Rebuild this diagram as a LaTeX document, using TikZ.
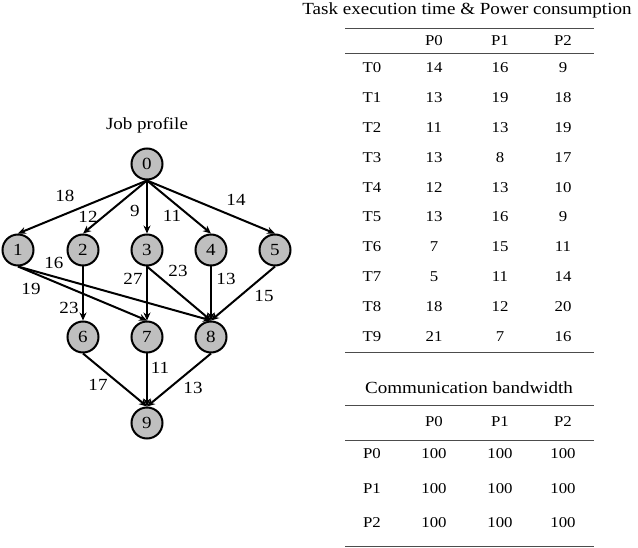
\documentclass[tikz,border=0pt]{standalone}
\usepackage{fontspec}
\setmainfont{Liberation Serif}[FakeStretch=1.12]
\usetikzlibrary{arrows.meta}
\begin{document}
\begin{tikzpicture}[x=1pt,y=-1pt,
  job/.style={circle,draw,line width=2pt,fill=black!25,minimum size=31pt,inner sep=0pt,font=\fontsize{17}{19}\selectfont},
  edge/.style={line width=2pt,-{Stealth[length=8pt,width=7pt]}},
  lbl/.style={font=\fontsize{17}{19}\selectfont},
  cell/.style={font=\fontsize{15}{17}\selectfont},
  rule/.style={line width=0.5pt,draw=black!70}]
\useasboundingbox (0,0) rectangle (638,548);
\node[lbl] (jt) at (147,125) {Job profile};
\node[job] (n0) at (147,164) {0};
\node[job] (n1) at (18,250) {1};
\node[job] (n2) at (83,250) {2};
\node[job] (n3) at (147,250) {3};
\node[job] (n4) at (211,250) {4};
\node[job] (n5) at (275,250) {5};
\node[job] (n6) at (83,337) {6};
\node[job] (n7) at (147,337) {7};
\node[job] (n8) at (211,337) {8};
\node[job] (n9) at (147,423) {9};
\foreach \t in {n1,n2,n3,n4,n5}{\draw[edge] (n0.south) -- (\t.north);}
\draw[edge] (n1.south) -- (n7.north);
\draw[edge] (n1.south) -- (n8.north);
\draw[edge] (n2.south) -- (n6.north);
\draw[edge] (n3.south) -- (n7.north);
\draw[edge] (n3.south) -- (n8.north);
\draw[edge] (n4.south) -- (n8.north);
\draw[edge] (n5.south) -- (n8.north);
\draw[edge] (n6.south) -- (n9.north);
\draw[edge] (n7.south) -- (n9.north);
\draw[edge] (n8.south) -- (n9.north);
\node[lbl] (l01) at (65,196) {18};
\node[lbl] (l02) at (88,217) {12};
\node[lbl] (l03) at (135,211) {9};
\node[lbl] (l04) at (172,216) {11};
\node[lbl] (l05) at (236,200) {14};
\node[lbl] (l17) at (54,263) {16};
\node[lbl] (l18) at (31,289) {19};
\node[lbl] (l26) at (69,308) {23};
\node[lbl] (l37) at (133,279) {27};
\node[lbl] (l38) at (178,271) {23};
\node[lbl] (l48) at (226,279) {13};
\node[lbl] (l58) at (264,296) {15};
\node[lbl] (l69) at (98,385) {17};
\node[lbl] (l79) at (160,368) {11};
\node[lbl] (l89) at (193,388) {13};
% table 1
\node[lbl] (t1) at (467,10) {Task execution time \& Power consumption};
\draw[rule] (345,28) -- (594,28);
\draw[rule] (345,53) -- (594,53);
\draw[rule] (345,352) -- (594,352);
\node[cell] (h0) at (434,41) {P0};
\node[cell] (h1) at (500,41) {P1};
\node[cell] (h2) at (563,41) {P2};
\foreach \r/\a/\b/\c [count=\i from 0] in {T0/14/16/9,T1/13/19/18,T2/11/13/19,T3/13/8/17,T4/12/13/10,T5/13/16/9,T6/7/15/11,T7/5/11/14,T8/18/12/20,T9/21/7/16}{
  \pgfmathsetmacro\yy{68+29.8*\i}
  \node[cell] (r\i) at (372,\yy) {\r};
  \node[cell] (a\i) at (434,\yy) {\a};
  \node[cell] (b\i) at (500,\yy) {\b};
  \node[cell] (c\i) at (563,\yy) {\c};
}
% table 2
\node[lbl] (t2) at (469,388) {Communication bandwidth};
\draw[rule] (345,405) -- (594,405);
\draw[rule] (345,440) -- (594,440);
\draw[rule] (345,546) -- (594,546);
\node[cell] (g0) at (434,422) {P0};
\node[cell] (g1) at (500,422) {P1};
\node[cell] (g2) at (563,422) {P2};
\foreach \r [count=\i from 0] in {P0,P1,P2}{
  \pgfmathsetmacro\yy{454+34.5*\i}
  \node[cell] (s\i) at (372,\yy) {\r};
  \node[cell] (u\i) at (434,\yy) {100};
  \node[cell] (v\i) at (500,\yy) {100};
  \node[cell] (w\i) at (563,\yy) {100};
}
\end{tikzpicture}
\end{document}
